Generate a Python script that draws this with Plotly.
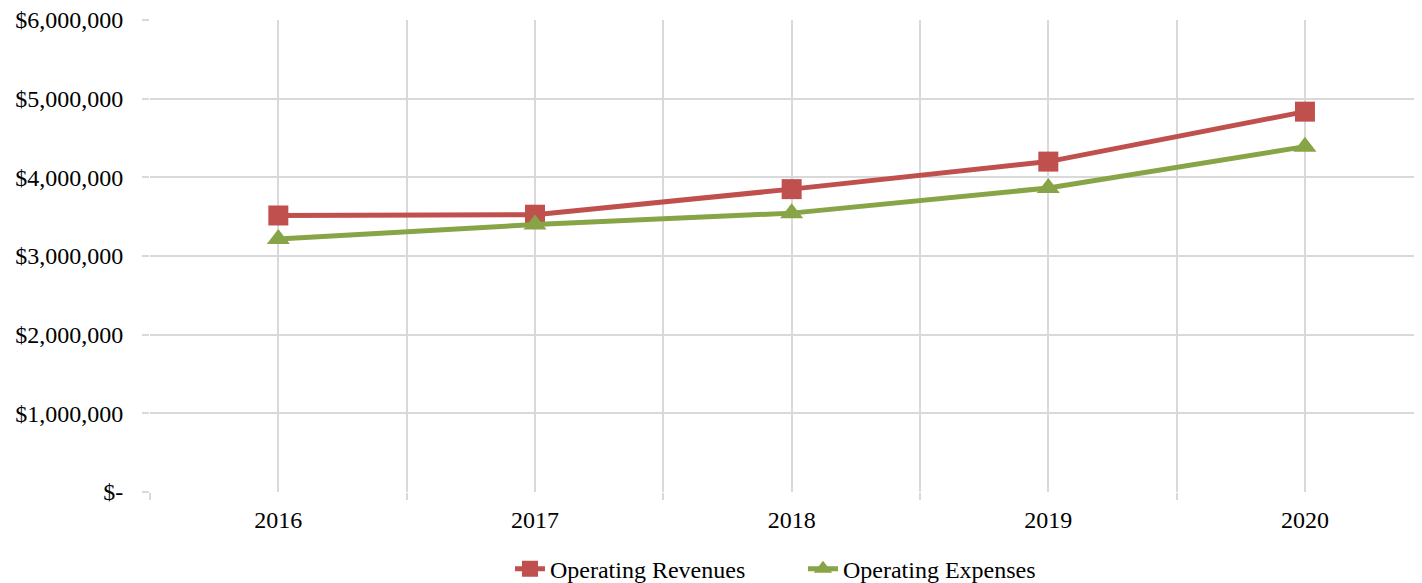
import plotly.graph_objects as go

years = ["2016", "2017", "2018", "2019", "2020"]
revenues = [3515000, 3525000, 3850000, 4200000, 4835000]
expenses = [3215000, 3400000, 3545000, 3865000, 4390000]
y_tickvals = [0, 1000000, 2000000, 3000000, 4000000, 5000000, 6000000]
y_ticktext = ["$-", "$1,000,000", "$2,000,000", "$3,000,000", "$4,000,000", "$5,000,000", "$6,000,000"]

FONT = "Liberation Serif, Times New Roman, serif"
GRID = "#D9D9D9"
RED = "#C0504D"
GREEN = "#87A546"

xpos = list(range(len(years)))

fig = go.Figure()
fig.add_trace(go.Scatter(
    x=xpos, y=revenues, name="Operating Revenues", mode="lines+markers",
    line=dict(color=RED, width=5),
    marker=dict(symbol="square", size=20, color=RED),
))
fig.add_trace(go.Scatter(
    x=xpos, y=expenses, name="Operating Expenses", mode="lines+markers",
    line=dict(color=GREEN, width=5),
    marker=dict(symbol="triangle-up", size=20, color=GREEN),
))

fig.update_layout(
    width=1414, height=575,
    margin=dict(l=142, r=0, t=12, b=91),
    paper_bgcolor="white", plot_bgcolor="white",
    font=dict(family=FONT, size=24, color="black"),
    showlegend=True,
    legend=dict(orientation="h", x=0.283, xanchor="left",
                yref="container", y=0.0243, yanchor="middle",
                font=dict(family=FONT, size=24), entrywidth=248, entrywidthmode="pixels",
                tracegroupgap=0),
)
fig.update_xaxes(
    range=[-0.5, 4.456], automargin=False,
    tickmode="array", tickvals=xpos, ticktext=years,
    showgrid=True, gridcolor=GRID, gridwidth=2,
    ticks="", ticklabelstandoff=11,
    showline=False, zeroline=False,
    minor=dict(tick0=-0.5, dtick=1, ticks="outside", ticklen=7, tickwidth=2,
               tickcolor=GRID, showgrid=True, gridcolor=GRID, gridwidth=2),
)
fig.update_yaxes(
    range=[0, 6000000], automargin=False,
    tickmode="array", tickvals=y_tickvals, ticktext=y_ticktext,
    showgrid=True, gridcolor=GRID, gridwidth=2,
    ticks="outside", ticklen=7, tickwidth=2, tickcolor=GRID,
    ticklabelstandoff=14, ticklabeloverflow="allow",
    showline=False, zeroline=False,
)

fig.write_html("out.html")
